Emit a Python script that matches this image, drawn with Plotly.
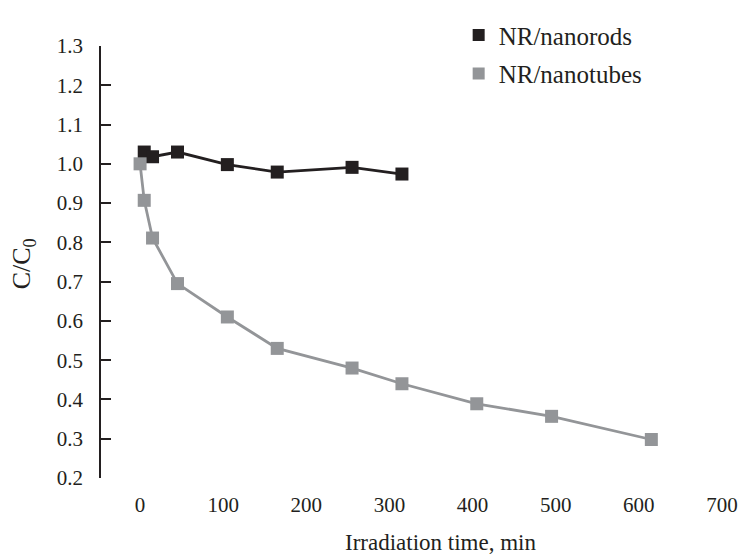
import plotly.graph_objects as go

# Data
time_rods = [5, 15, 45, 105, 165, 255, 315]
c_rods = [1.03, 1.018, 1.03, 0.998, 0.979, 0.991, 0.974]

time_tubes = [0, 5, 15, 45, 105, 165, 255, 315, 405, 495, 615]
c_tubes = [1.00, 0.907, 0.811, 0.695, 0.61, 0.53, 0.48, 0.44, 0.389, 0.357, 0.298]

x_ticks = [0, 100, 200, 300, 400, 500, 600, 700]
y_ticks = [0.2, 0.3, 0.4, 0.5, 0.6, 0.7, 0.8, 0.9, 1.0, 1.1, 1.2, 1.3]

dark = "#231f20"
gray = "#939598"
font_family = "Liberation Serif, Times New Roman, serif"

L, R, T, B = 101, 17, 30, 80
W, H = 750, 558
plot_w = W - L - R
plot_h = H - T - B


def px_x(p):
    return (p - L) / plot_w


def px_y(p):
    return (H - B - p) / plot_h


fig = go.Figure()
fig.add_trace(go.Scatter(x=time_rods, y=c_rods, mode="lines+markers",
                         line=dict(color=dark, width=2.8),
                         marker=dict(symbol="square", size=13, color=dark),
                         showlegend=False))
fig.add_trace(go.Scatter(x=time_tubes, y=c_tubes, mode="lines+markers",
                         line=dict(color=gray, width=2.8),
                         marker=dict(symbol="square", size=13, color=gray),
                         showlegend=False))
# legend-only entries (markers only)
fig.add_trace(go.Scatter(x=[None], y=[None], mode="markers", name="NR/nanorods",
                         marker=dict(symbol="square", size=11, color=dark),
                         legendgroup="a"))
fig.add_trace(go.Scatter(x=[None], y=[None], mode="markers", name="NR/nanotubes",
                         marker=dict(symbol="square", size=11, color=gray),
                         legendgroup="b"))

fig.update_layout(
    width=W, height=H,
    margin=dict(l=L, r=R, t=T, b=B),
    paper_bgcolor="white", plot_bgcolor="white",
    font=dict(family=font_family, size=21, color=dark),
    legend=dict(x=px_x(465), y=px_y(-5), xanchor="left", yanchor="top",
                font=dict(size=25), tracegroupgap=3,
                bgcolor="rgba(0,0,0,0)", itemsizing="constant"),
    xaxis=dict(range=[-47, 700], tickvals=x_ticks, showline=False,
               showgrid=False, zeroline=False, ticks="",
               ticklabelstandoff=12, ticklabeloverflow="allow"),
    yaxis=dict(range=[0.2, 1.3], tickvals=y_ticks, tickformat=".1f",
               showline=True, linecolor=dark, linewidth=1.5,
               ticks="inside", ticklen=10, tickcolor=dark, tickwidth=1.5,
               showgrid=False, zeroline=False, ticklabelstandoff=12),
    annotations=[
        dict(text="Irradiation time, min", x=px_x(447), y=px_y(545),
             xref="paper", yref="paper", xanchor="center", yanchor="middle",
             showarrow=False, font=dict(size=23)),
        dict(text="C/C<sub>0</sub>", x=px_x(22), y=px_y(256),
             xref="paper", yref="paper", xanchor="center", yanchor="middle",
             textangle=-90, showarrow=False, font=dict(size=26)),
    ],
)

fig.write_html(
    "out.html",
    config={"displayModeBar": False},
    post_script="document.body.style.margin='0';document.body.style.overflow='hidden';",
)
